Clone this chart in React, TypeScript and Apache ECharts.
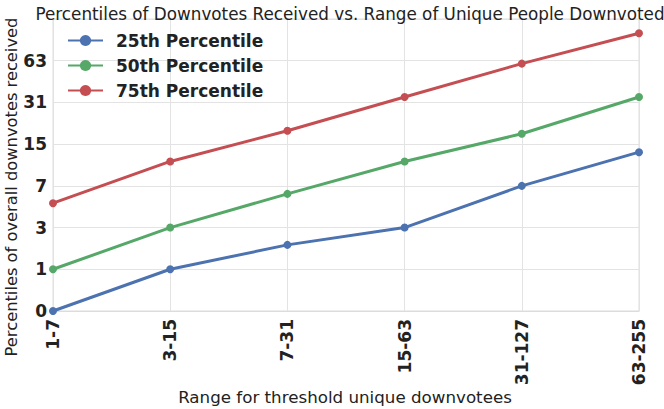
import React, { useEffect, useRef } from "react";
import * as echarts from "echarts";

const categories = ["1-7", "3-15", "7-31", "15-63", "31-127", "63-255"];
const p25 = [0, 1, 2, 3, 7, 13];
const p50 = [1, 3, 6, 11, 18, 34];
const p75 = [5, 11, 19, 34, 60, 100];
const yTickValues = [0, 1, 3, 7, 15, 31, 63];

const FONT = "DejaVu Sans";
const toLog = (v: number) => Math.log2(v + 1);

export default function App() {
  const ref = useRef<HTMLDivElement>(null);
  useEffect(() => {
    if (!ref.current) return;
    const chart = echarts.init(ref.current, undefined, { renderer: "svg" });
    const mk = (name: string, data: number[], color: string) => ({
      name,
      type: "line",
      data: data.map(toLog),
      symbol: "circle",
      symbolSize: 8,
      showSymbol: true,
      lineStyle: { color, width: 3 },
      itemStyle: { color },
    });
    chart.setOption({
      animation: false,
      textStyle: { fontFamily: FONT },
      title: {
        text: "Percentiles of Downvotes Received vs. Range of Unique People Downvoted",
        left: 345,
        top: 0,
        textAlign: "center",
        textStyle: { fontFamily: FONT, fontSize: 16.8, fontWeight: "normal", color: "#222" },
      },
      grid: {
        left: 53,
        right: 25,
        top: 19,
        bottom: 98,
        show: true,
        borderColor: "#dcdcdc",
        borderWidth: 1,
        outerBoundsMode: "none",
        containLabel: false,
      },
      legend: {
        orient: "vertical",
        left: 67,
        top: 32,
        padding: 0,
        itemWidth: 35,
        itemHeight: 14,
        itemGap: 8,
        textStyle: {
          fontFamily: FONT,
          fontSize: 17,
          fontWeight: "bold",
          color: "#222",
          padding: [0, 0, 0, 8],
        },
        data: ["25th Percentile", "50th Percentile", "75th Percentile"],
      },
      xAxis: {
        type: "category",
        data: categories,
        boundaryGap: false,
        axisLine: { show: true, lineStyle: { color: "#dcdcdc" } },
        axisTick: { show: false },
        splitLine: { show: true, lineStyle: { color: "#e3e3e3", width: 1 } },
        axisLabel: {
          rotate: 90,
          margin: 8,
          fontFamily: FONT,
          fontSize: 17,
          fontWeight: "bold",
          color: "#222",
        },
      },
      yAxis: {
        type: "value",
        min: 0,
        max: 7,
        interval: 1,
        axisLine: { show: false },
        axisTick: { show: false },
        splitLine: { show: true, lineStyle: { color: "#e3e3e3", width: 1 } },
        axisLabel: {
          margin: 6,
          fontFamily: FONT,
          fontSize: 17,
          fontWeight: "bold",
          color: "#222",
          formatter: (v: number) => {
            const idx = Math.round(v);
            return idx < yTickValues.length ? String(yTickValues[idx]) : "";
          },
        },
      },
      graphic: [
        {
          type: "text",
          x: 11,
          y: 187,
          rotation: Math.PI / 2,
          style: {
            text: "Percentiles of overall downvotes received",
            fontFamily: FONT,
            fontSize: 16.3,
            fill: "#222",
            align: "center",
            verticalAlign: "middle",
          },
        },
        {
          type: "text",
          x: 345,
          y: 397,
          style: {
            text: "Range for threshold unique downvotees",
            fontFamily: FONT,
            fontSize: 16.7,
            fill: "#222",
            align: "center",
            verticalAlign: "middle",
          },
        },
      ],
      series: [
        mk("25th Percentile", p25, "#4C72B0"),
        mk("50th Percentile", p50, "#55A868"),
        mk("75th Percentile", p75, "#C44E52"),
      ],
    });
    return () => chart.dispose();
  }, []);
  return (
    <div
      ref={ref}
      style={{ position: "absolute", left: 0, top: 0, width: 664, height: 409 }}
    />
  );
}
